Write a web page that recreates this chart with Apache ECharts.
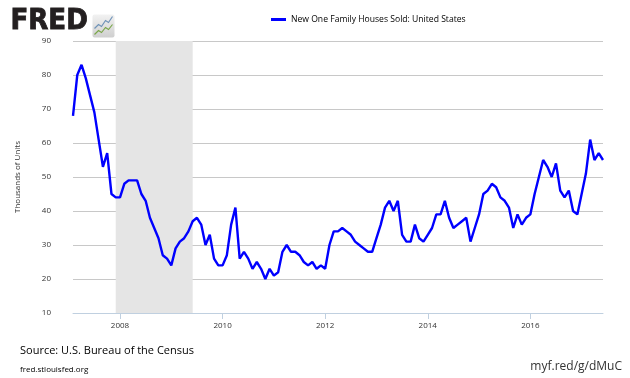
<!DOCTYPE html>
<html>
<head>
<meta charset="utf-8">
<script src="https://cdn.jsdelivr.net/npm/echarts@6/dist/echarts.min.js"></script>
<style>
html,body{margin:0;padding:0;background:#fff;}
#c{width:630px;height:378px;}
</style>
</head>
<body>
<div id="c"></div>
<script>
// New One Family Houses Sold: United States (thousands of units), monthly, Feb 2007 - Jun 2017
const firstYear = 2007;
const firstMonth = 2; // February
const v2007 = [68, 80, 83, 79, 74, 69, 61, 53, 57, 45, 44];
const v2008 = [44, 48, 49, 49, 49, 45, 43, 38, 35, 32, 27, 26];
const v2009 = [24, 29, 31, 32, 34, 37, 38, 36, 30, 33, 26, 24];
const v2010 = [24, 27, 36, 41, 26, 28, 26, 23, 25, 23, 20, 23];
const v2011 = [21, 22, 28, 30, 28, 28, 27, 25, 24, 25, 23, 24];
const v2012 = [23, 30, 34, 34, 35, 34, 33, 31, 30, 29, 28, 28];
const v2013 = [32, 36, 41, 43, 40, 43, 33, 31, 31, 36, 32, 31];
const v2014 = [33, 35, 39, 39, 43, 38, 35, 36, 37, 38, 31, 35];
const v2015 = [39, 45, 46, 48, 47, 44, 43, 41, 35, 39, 36, 38];
const v2016 = [39, 45, 50, 55, 53, 50, 54, 46, 44, 46, 40, 39];
const v2017 = [45, 51, 61, 55, 57, 55];
const tickYears = [2008, 2010, 2012, 2014, 2016];
const recessionStart = [2007, 12];
const recessionEnd = [2009, 6];
const seriesName = 'New One Family Houses Sold: United States';
const yTitle = 'Thousands of Units';

// months since Jan of firstYear
function mIdx(y, m) { return (y - firstYear) * 12 + (m - 1); }

const values = [].concat(v2007, v2008, v2009, v2010, v2011, v2012, v2013, v2014, v2015, v2016, v2017);
const startIdx = mIdx(firstYear, firstMonth);
const data = values.map((v, i) => [startIdx + i, v]);
const tickVals = tickYears.map(y => mIdx(y, 1));

const chart = echarts.init(document.getElementById('c'), null, {renderer: 'canvas'});
const FONT = 'Open Sans';
chart.setOption({
  animation: false,
  backgroundColor: '#ffffff',
  textStyle: {fontFamily: FONT},
  legend: {
    left: 266, top: 10,
    itemWidth: 15, itemHeight: 3, itemGap: 5,
    icon: 'rect',
    textStyle: {fontFamily: FONT, fontSize: 8.6, color: '#000'},
    data: [seriesName]
  },
  grid: {left: 73, right: 27, top: 41, bottom: 65},
  xAxis: {
    type: 'value',
    min: startIdx,
    max: startIdx + values.length - 1,
    splitLine: {show: false},
    axisLine: {lineStyle: {color: '#c0d0e0', width: 1}},
    axisTick: {show: true, customValues: tickVals, length: 6, lineStyle: {color: '#c0d0e0'}},
    axisLabel: {
      customValues: tickVals,
      formatter: v => String(firstYear + Math.round(v / 12)),
      fontFamily: FONT, fontSize: 8, color: '#333', margin: 9
    }
  },
  yAxis: {
    type: 'value', min: 10, max: 90, interval: 10,
    name: yTitle, nameLocation: 'middle', nameRotate: 90, nameGap: 51,
    nameTextStyle: {fontFamily: FONT, fontSize: 8, color: '#333'},
    axisLine: {show: false}, axisTick: {show: false},
    splitLine: {lineStyle: {color: '#c8c8c8', width: 1}},
    axisLabel: {fontFamily: FONT, fontSize: 8, color: '#333', margin: 22}
  },
  series: [{
    name: seriesName,
    type: 'line',
    data: data,
    showSymbol: false,
    symbol: 'none',
    color: '#0000ff',
    lineStyle: {color: '#0000ff', width: 2.4},
    markArea: {
      silent: true,
      itemStyle: {color: '#e5e5e5'},
      data: [[{xAxis: mIdx(recessionStart[0], recessionStart[1])}, {xAxis: mIdx(recessionEnd[0], recessionEnd[1])}]]
    },
    z: 3
  }],
  graphic: [
    {type: 'text', left: 10, top: 7, style: {text: 'FRED', font: '900 29px "DejaVu Sans Condensed"', fill: '#231f20', stroke: '#231f20', lineWidth: 0.8}},
    {type: 'group', left: 92, top: 14, children: [
      {type: 'rect', shape: {x: 0, y: 0, width: 22, height: 23, r: 2}, style: {fill: new echarts.graphic.LinearGradient(0, 0, 0, 1, [{offset: 0, color: '#f2f2f2'}, {offset: 1, color: '#cfcfcf'}])}},
      {type: 'polyline', shape: {points: [[2, 14], [6, 10], [9, 12], [13, 6], [16, 8], [20, 2]]}, style: {stroke: '#6f93b8', lineWidth: 1.2, fill: null}},
      {type: 'polyline', shape: {points: [[2, 20], [6, 16], [9, 18], [13, 13], [16, 15], [20, 10]]}, style: {stroke: '#7aa64a', lineWidth: 1.2, fill: null}}
    ]},
    {type: 'text', left: 20, top: 345, style: {text: 'Source: U.S. Bureau of the Census', font: '11px "Open Sans"', fill: '#000'}},
    {type: 'text', left: 20, top: 366, style: {text: 'fred.stlouisfed.org', font: '8px "Open Sans"', fill: '#000'}},
    {type: 'text', right: 8, top: 361, style: {text: 'myf.red/g/dMuC', font: '12px "Open Sans"', fill: '#333'}}
  ]
});
</script>
</body>
</html>
